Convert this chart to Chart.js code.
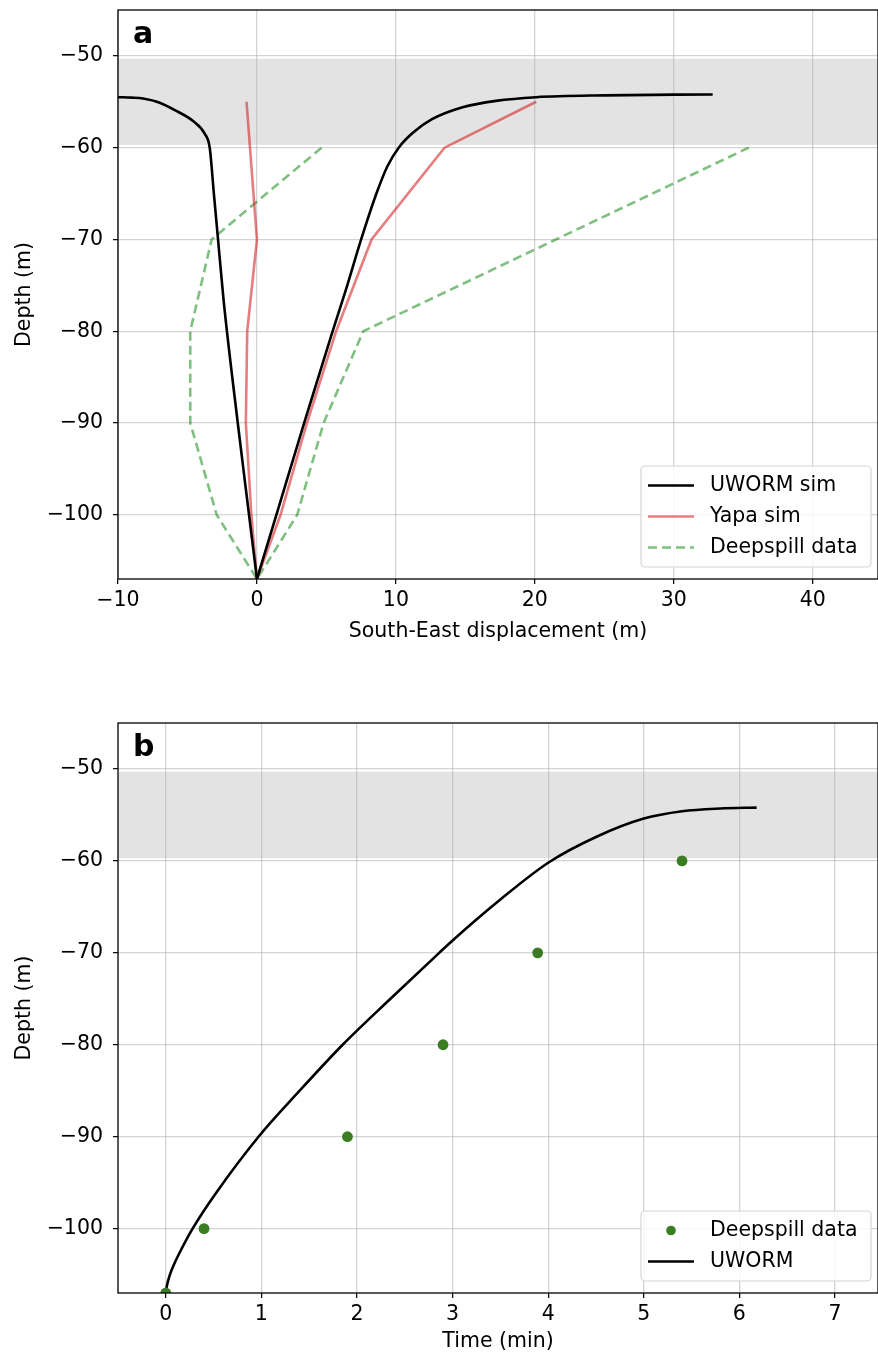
<!DOCTYPE html>
<html lang="en">
<head>
    <meta charset="UTF-8">
    <title>UWORM vs Deepspill</title>
    <style>
        body {
            margin: 0;
            background: #ffffff;
            width: 878px;
            height: 1357px;
            position: relative;
            overflow: hidden;
        }
        canvas {
            position: absolute;
            left: 0;
        }
        #chart-a { top: 0; }
        #chart-b { top: 660px; }
    </style>
</head>
<body>
    <canvas id="chart-a" width="878" height="660"></canvas>
    <canvas id="chart-b" width="878" height="697"></canvas>

    <script src="https://cdn.jsdelivr.net/npm/chart.js"></script>
    <script>
        // panel a: South-East displacement (m) vs depth (m)
        const uwormLeftX = [-10, -9, -8.2, -7.0, -5.8, -4.6, -3.75, -3.4, -3.1, -2.8, -2.4, -1.38, -0.57, 0];
        const uwormLeftDepth = [-54.5, -54.55, -54.65, -55.1, -56.0, -57.1, -58.5, -60, -65, -70, -76.6, -90, -100, -107];
        const uwormRightX = [0, 1.4, 3.4, 5.45, 6.4, 7.5, 8.6, 9.4, 10.2, 11.2, 12.6, 14.8, 17.2, 20.1, 25, 32.8];
        const uwormRightDepth = [-107, -100, -90, -80, -75.5, -70, -65, -62, -60, -58.4, -56.9, -55.6, -54.9, -54.5, -54.3, -54.2];
        const yapaX = [-0.75, -0.5, 0, -0.7, -0.8, -0.4, 0, 1.7, 3.6, 5.7, 8.25, 13.5, 20.1];
        const yapaDepth = [-55, -60, -70, -80, -90, -100, -107, -100, -90, -80, -70, -60, -55];
        const deepspillX = [4.65, -3.26, -4.8, -4.8, -2.9, 0, 2.9, 4.8, 7.65, 35.4];
        const deepspillDepth = [-60, -70, -80, -90, -100, -107, -100, -90, -80, -60];

        // panel b: time (min) vs depth (m)
        const dataTime = [0, 0.4, 1.9, 2.9, 3.89, 5.4];
        const dataDepth = [-107, -100, -90, -80, -70, -60];
        const uwormTime = [0, 0.01, 0.04, 0.09, 0.17, 0.28, 0.52, 0.97, 1.4, 1.85, 2.35, 2.86, 3.0, 3.5, 4.0, 4.5, 5.0, 5.4, 5.8, 6.18];
        const uwormDepth = [-107, -106.3, -105.1, -103.8, -102.1, -100, -96.2, -90, -85, -80, -75, -70, -68.65, -64.2, -60.2, -57.4, -55.4, -54.6, -54.3, -54.2];

        // shaded depth band
        const bandDepth = [-50.3, -59.7];

        // axes
        const depthRange = [-107, -45];
        const depthTicks = [-100, -90, -80, -70, -60, -50];
        const dispRange = [-10, 44.7];
        const dispTicks = [-10, 0, 10, 20, 30, 40];
        const timeRange = [-0.5, 7.45];
        const timeTicks = [0, 1, 2, 3, 4, 5, 6, 7];

        const toPoints = (xs, ys) => xs.map((x, i) => ({ x: x, y: ys[i] }));
        const fmt = v => v < 0 ? '\u2212' + Math.abs(v) : String(v);

        const fontSize = 20.5;
        Chart.defaults.font.family = "'DejaVu Sans', sans-serif";
        Chart.defaults.font.size = fontSize;
        Chart.defaults.color = '#000000';

        const gridColor = 'rgba(176,176,176,0.55)';

        // draws band, frame, panel letter and legend
        const decor = {
            id: 'decor',
            beforeDraw(chart, args, opts) {
                const { ctx, chartArea } = chart;
                const y = chart.scales.y;
                const top = y.getPixelForValue(opts.band[0]);
                const bottom = y.getPixelForValue(opts.band[1]);
                ctx.save();
                ctx.fillStyle = 'rgba(128,128,128,0.22)';
                ctx.fillRect(chartArea.left, top, chartArea.right - chartArea.left, bottom - top);
                ctx.restore();
            },
            afterDraw(chart, args, opts) {
                const { ctx, chartArea } = chart;
                ctx.save();
                ctx.strokeStyle = '#000';
                ctx.lineWidth = 1.3;
                ctx.strokeRect(chartArea.left, chartArea.top, chartArea.right - chartArea.left, chartArea.bottom - chartArea.top);

                ctx.fillStyle = '#000';
                ctx.font = "bold 30px 'DejaVu Sans'";
                ctx.textBaseline = 'alphabetic';
                ctx.fillText(opts.letter, chartArea.left + 15, chartArea.top + 33);

                // legend
                const items = chart.data.datasets.filter(d => !d.noLegend);
                const lx = 641, lw = 230, rowH = 31, lh = items.length * rowH + 8;
                const ly = chartArea.bottom - 12 - lh;
                ctx.fillStyle = 'rgba(255,255,255,0.85)';
                ctx.strokeStyle = '#d6d6d6';
                ctx.lineWidth = 1.2;
                ctx.beginPath();
                ctx.roundRect(lx, ly, lw, lh, 4);
                ctx.fill();
                ctx.stroke();
                ctx.font = fontSize + "px 'DejaVu Sans'";
                ctx.textBaseline = 'middle';
                items.forEach((d, i) => {
                    const cy = ly + 4 + rowH * i + rowH / 2;
                    if (d.showLine === false) {
                        ctx.fillStyle = d.pointBackgroundColor;
                        ctx.beginPath();
                        ctx.arc(671, cy, 4.8, 0, Math.PI * 2);
                        ctx.fill();
                    } else {
                        ctx.strokeStyle = d.borderColor;
                        ctx.lineWidth = d.borderWidth;
                        ctx.setLineDash(d.borderDash || []);
                        ctx.beginPath();
                        ctx.moveTo(648, cy);
                        ctx.lineTo(694, cy);
                        ctx.stroke();
                        ctx.setLineDash([]);
                    }
                    ctx.fillStyle = '#000';
                    ctx.fillText(d.label, 710, cy);
                });
                ctx.restore();
            }
        };

        function axes(xRange, xTicks, xTitle, xHeight, titlePad) {
            return {
                x: {
                    type: 'linear',
                    min: xRange[0],
                    max: xRange[1],
                    afterBuildTicks: s => { s.ticks = xTicks.map(v => ({ value: v })); },
                    afterFit: s => { s.height = xHeight; s.paddingLeft = 0; s.paddingRight = 0; },
                    ticks: { callback: fmt, padding: 4, maxRotation: 0 },
                    grid: { color: gridColor, lineWidth: 1.3, tickColor: '#000', tickLength: 5, tickWidth: 1.2 },
                    border: { display: false },
                    title: { display: true, text: xTitle, padding: { top: 0, bottom: titlePad } }
                },
                y: {
                    type: 'linear',
                    min: depthRange[0],
                    max: depthRange[1],
                    afterBuildTicks: s => { s.ticks = depthTicks.map(v => ({ value: v })); },
                    afterFit: s => { s.width = 118; s.paddingTop = 0; s.paddingBottom = 0; },
                    ticks: { callback: fmt, padding: 10 },
                    grid: { color: gridColor, lineWidth: 1.3, tickColor: '#000', tickLength: 5, tickWidth: 1.2 },
                    border: { display: false },
                    title: { display: true, text: 'Depth (m)', padding: { top: 12.7, bottom: 0 } }
                }
            };
        }

        new Chart(document.getElementById('chart-a'), {
            type: 'scatter',
            data: {
                datasets: [
                    {
                        label: 'UWORM sim',
                        data: toPoints(uwormLeftX, uwormLeftDepth),
                        showLine: true, borderColor: '#000000', borderWidth: 2.6,
                        pointRadius: 0, cubicInterpolationMode: 'monotone'
                    },
                    {
                        label: 'UWORM sim', noLegend: true,
                        data: toPoints(uwormRightX, uwormRightDepth),
                        showLine: true, borderColor: '#000000', borderWidth: 2.6,
                        pointRadius: 0, cubicInterpolationMode: 'monotone'
                    },
                    {
                        label: 'Yapa sim',
                        data: toPoints(yapaX, yapaDepth),
                        showLine: true, borderColor: 'rgba(214,39,40,0.6)', borderWidth: 2.6,
                        pointRadius: 0, tension: 0
                    },
                    {
                        label: 'Deepspill data',
                        data: toPoints(deepspillX, deepspillDepth),
                        showLine: true, borderColor: 'rgba(0,128,0,0.5)', borderWidth: 2.6,
                        borderDash: [9, 5], pointRadius: 0, tension: 0
                    }
                ]
            },
            options: {
                responsive: false,
                animation: false,
                layout: { autoPadding: false, padding: { top: 10, right: 0, left: 0, bottom: 0 } },
                scales: axes(dispRange, dispTicks, 'South-East displacement (m)', 81, 15.7),
                plugins: {
                    legend: { display: false },
                    tooltip: { enabled: false },
                    decor: { band: bandDepth, letter: 'a' }
                }
            },
            plugins: [decor]
        });

        new Chart(document.getElementById('chart-b'), {
            type: 'scatter',
            data: {
                datasets: [
                    {
                        label: 'Deepspill data',
                        data: toPoints(dataTime, dataDepth),
                        showLine: false,
                        pointBackgroundColor: '#3a7d23', pointBorderColor: '#3a7d23',
                        pointRadius: 5.4, pointBorderWidth: 0
                    },
                    {
                        label: 'UWORM',
                        data: toPoints(uwormTime, uwormDepth),
                        showLine: true, borderColor: '#000000', borderWidth: 2.6,
                        pointRadius: 0, cubicInterpolationMode: 'monotone'
                    }
                ]
            },
            options: {
                responsive: false,
                animation: false,
                layout: { autoPadding: false, padding: { top: 63, right: 0, left: 0, bottom: 0 } },
                scales: axes(timeRange, timeTicks, 'Time (min)', 64, 2.7),
                plugins: {
                    legend: { display: false },
                    tooltip: { enabled: false },
                    decor: { band: bandDepth, letter: 'b' }
                }
            },
            plugins: [decor]
        });
    </script>
</body>
</html>
